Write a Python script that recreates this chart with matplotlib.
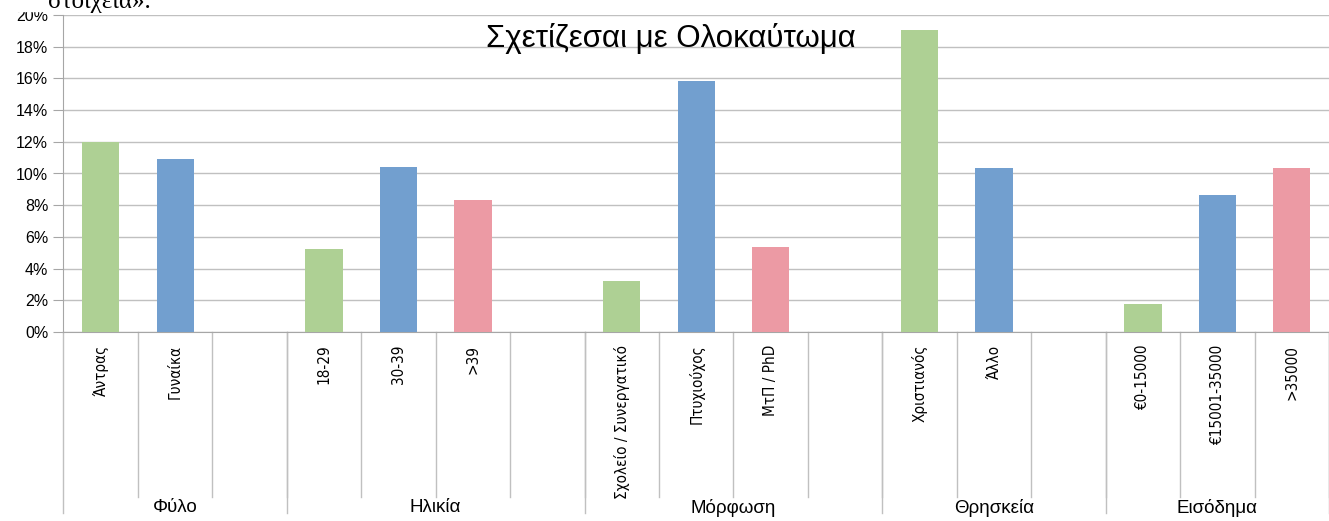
import matplotlib.pyplot as plt
from matplotlib.patches import Rectangle

# chart data
groups = ["Φύλο", "Ηλικία", "Μόρφωση", "Θρησκεία", "Εισόδημα"]
group_labels = [
    ["Άντρας", "Γυναίκα", ""],
    ["18-29", "30-39", ">39", ""],
    ["Σχολείο / Συνεργατικό", "Πτυχιούχος", "ΜτΠ / PhD", ""],
    ["Χριστιανός", "Άλλο", ""],
    ["€0-15000", "€15001-35000", ">35000"],
]
group_values = [
    [12.0, 10.9, None],
    [5.25, 10.4, 8.35, None],
    [3.2, 15.85, 5.35, None],
    [19.05, 10.35, None],
    [1.77, 8.65, 10.35],
]
bar_colors = ["#AED094", "#729FCF", "#EC9AA4"]
yticks = [0, 2, 4, 6, 8, 10, 12, 14, 16, 18, 20]

W, H = 1329, 521
fig = plt.figure(figsize=(W / 100, H / 100), dpi=100)
ax = fig.add_axes([63.5 / W, 189 / H, (W - 63.5) / W, 317 / H])

grid_c = "#C0C0C0"
axis_c = "#A6A6A6"
sans = ["Liberation Sans", "DejaVu Sans"]

slot = 0
bounds = [0]
for g, labels in enumerate(group_labels):
    for i, lab in enumerate(labels):
        v = group_values[g][i]
        x = slot + 0.5
        if v is not None:
            ax.bar(x, v, width=0.5, color=bar_colors[i], zorder=3)
        if lab:
            ax.text(x, -0.04, lab, rotation=90, ha="center", va="top",
                    transform=ax.get_xaxis_transform(), fontsize=11,
                    family="DejaVu Sans", fontstretch="condensed",
                    color="black")
        slot += 1
        if slot not in bounds:
            # inner separator line
            ax.plot([slot, slot], [0, -0.52], color=grid_c, lw=1,
                    transform=ax.get_xaxis_transform(), clip_on=False)
    bounds.append(slot)

# group separators and group names
for b in bounds:
    ax.plot([b, b], [0, -0.571], color=grid_c, lw=1,
            transform=ax.get_xaxis_transform(), clip_on=False)
for g, name in enumerate(groups):
    mid = (bounds[g] + bounds[g + 1]) / 2
    ax.text(mid, -0.555, name, ha="center", va="center", fontsize=13.5,
            family=sans, transform=ax.get_xaxis_transform())

ax.set_xlim(0, slot)
ax.set_ylim(0, 20)
ax.set_yticks(yticks)
ax.set_yticklabels([f"{t}%" for t in yticks], family=sans, fontsize=11.5)
ax.set_xticks([])
ax.yaxis.grid(True, color=grid_c, lw=1, zorder=0)
ax.tick_params(axis="y", length=7, color=axis_c, pad=4)
for s in ["top", "right"]:
    ax.spines[s].set_visible(False)
ax.spines["left"].set_color(axis_c)
ax.spines["bottom"].set_color(axis_c)
ax.set_axisbelow(True)

fig.text(671 / W, 1 - 38 / H, "Σχετίζεσαι με Ολοκαύτωμα", ha="center",
         va="center", fontsize=22.5, family=sans)

# cut-off text of the surrounding document at the top
fig.add_artist(Rectangle((0, 1 - 11 / H), 1, 11 / H, transform=fig.transFigure,
                         color="white", zorder=5))
fig.text(48 / W, 1 - 8 / H, "στοιχεία».", ha="left", va="baseline",
         fontsize=18, family=["Liberation Serif", "DejaVu Serif"], zorder=6)

fig.savefig("out.png", dpi=100)
